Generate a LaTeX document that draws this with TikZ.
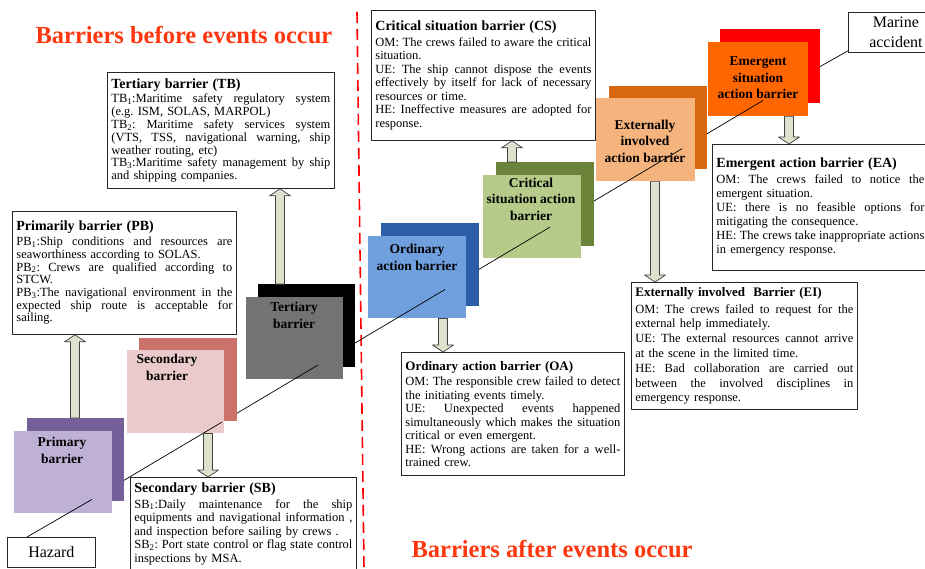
\documentclass[tikz,border=0pt]{standalone}
\usepackage{fontspec}
\setmainfont{Liberation Serif}
\usetikzlibrary{calc}

\definecolor{pbBack}{RGB}{118,96,154}
\definecolor{pbFront}{RGB}{191,177,213}
\definecolor{sbBack}{RGB}{203,115,107}
\definecolor{sbFront}{RGB}{234,202,202}
\definecolor{tbBack}{RGB}{0,0,0}
\definecolor{tbFront}{RGB}{115,115,115}
\definecolor{oaBack}{RGB}{44,94,168}
\definecolor{oaFront}{RGB}{111,159,221}
\definecolor{csBack}{RGB}{107,132,58}
\definecolor{csFront}{RGB}{182,203,137}
\definecolor{eiBack}{RGB}{215,104,15}
\definecolor{eiFront}{RGB}{245,180,126}
\definecolor{eaBack}{RGB}{255,0,0}
\definecolor{eaFront}{RGB}{255,102,0}
\definecolor{arrowfill}{RGB}{221,226,204}
\definecolor{titlered}{RGB}{255,55,15}

\frenchspacing
% one justified line of a description box
\newcommand{\J}[1]{\leavevmode\hbox to \hsize{\spaceskip=0.25em plus 1em minus 0.1em\relax #1}}
\newcommand{\boxhead}[2][14]{{\fontsize{#1}{#1}\selectfont\bfseries #2}\\[2pt]}
% block arrow: x, start anchor, tip anchor
\newcommand{\blockarrow}[3]{%
  \coordinate (ba) at (#1,0 |- #2);
  \coordinate (bt) at (#1,0 |- #3);
  \coordinate (bh) at ($(bt)!7pt!(ba)$);
  \draw[blockarr] ([xshift=-4.5pt]ba) -- ([xshift=-4.5pt]bh) -- ([xshift=-10.5pt]bh)
    -- (bt) -- ([xshift=10.5pt]bh) -- ([xshift=4.5pt]bh) -- ([xshift=4.5pt]ba) -- cycle;}

\begin{document}
\begin{tikzpicture}[x=1pt,y=-1pt,line join=round,
  barback/.style={anchor=north west,inner sep=0pt,minimum width=97pt,minimum height=83pt},
  barlabel/.style={align=center,font=\fontsize{13.5}{16.5}\selectfont\bfseries},
  desc/.style={draw=black!85,line width=0.8pt,fill=white,anchor=north west,inner xsep=4pt,
    inner ysep=2pt,align=left,font=\fontsize{12.5}{13}\selectfont},
  endbox/.style={draw=black!85,line width=0.8pt,fill=white,anchor=north west,align=center,
    font=\fontsize{16}{20}\selectfont},
  route/.style={line width=0.7pt},
  blockarr/.style={draw=black!75,fill=arrowfill,line width=0.7pt},
  title/.style={anchor=base west,text=titlered,font=\fontsize{24.5}{26}\selectfont\bfseries}]
\useasboundingbox (0,0) rectangle (925,569);

% divider
\draw[red,line width=1.6pt,dash pattern=on 11pt off 6pt] (357,12) -- (364,569);

% barriers, back and front
\node[barback,fill=pbBack] (pbB) at (27,418) {};
\node[barback,fill=pbFront,minimum width=98pt,minimum height=82pt] (pbF) at (14,431) {};
\node[barback,fill=sbBack,minimum width=98pt] (sbB) at (139,338) {};
\node[barback,fill=sbFront] (sbF) at (127,350) {};
\node[barback,fill=tbBack] (tbB) at (258,284) {};
\node[barback,fill=tbFront,minimum height=82pt] (tbF) at (246,297) {};
\node[barback,fill=oaBack,minimum width=98pt] (oaB) at (381,223) {};
\node[barback,fill=oaFront,minimum width=98pt,minimum height=82pt] (oaF) at (368,236) {};
\node[barback,fill=csBack,minimum width=98pt,minimum height=84pt] (csB) at (496,162) {};
\node[barback,fill=csFront,minimum width=98pt] (csF) at (483,175) {};
\node[barback,fill=eiBack,minimum width=98pt] (eiB) at (609,86) {};
\node[barback,fill=eiFront,minimum width=99pt] (eiF) at (596,98) {};
\node[barback,fill=eaBack,minimum width=100pt,minimum height=74pt] (eaB) at (720,29) {};
\node[barback,fill=eaFront,minimum width=100pt,minimum height=74pt] (eaF) at (708,42) {};

\node[barlabel] (pbT) at (62,450.5) {Primary\\barrier};
\node[barlabel] (sbT) at (167,367.5) {Secondary\\barrier};
\node[barlabel] (tbT) at (294,315.5) {Tertiary\\barrier};
\node[barlabel] (oaT) at (417,257.5) {Ordinary\\action barrier};
\node[barlabel] (csT) at (531,199) {Critical\\situation action\\barrier};
\node[barlabel] (eiT) at (645,141) {Externally\\involved\\action barrier};
\node[barlabel] (eaT) at (758,78) {Emergent\\situation\\action barrier};

% start and end
\node[endbox,minimum width=88pt,minimum height=30pt] (hz) at (7,537) {Hazard};
\node[endbox,minimum width=95pt,minimum height=40pt,inner sep=0pt] (ma) at (848,12) {Marine\\accident};

% the route, in pieces
\coordinate (r0) at ([xshift=20pt]hz.north west);
\coordinate (r1) at (92,499.4);
\coordinate (p1) at (124,480.3);
\coordinate (r2) at (222,422.1);
\coordinate (p2) at (237,413.2);
\coordinate (r3) at (318,365);
\coordinate (p3) at (355,343);
\coordinate (r4) at (445,289.5);
\coordinate (p4) at (479,269.3);
\coordinate (r5) at (550,227.1);
\coordinate (p5) at (594,201);
\coordinate (r6) at (682,148.7);
\coordinate (p6) at (707,133.8);
\coordinate (r7) at (763,100.5);
\coordinate (p7) at (820,66.6);
\coordinate (r8) at ([yshift=2pt]ma.south west);
\foreach \s/\e in {r0/r1,p1/r2,p2/r3,p3/r4,p4/r5,p5/r6,p6/r7,p7/r8}
  \draw[route] (\s) -- (\e);

% descriptions
\node[desc,text width=219pt,minimum height=116pt,font=\fontsize{12.5}{12.8}\selectfont] (tb) at (107,72) {\boxhead{Tertiary barrier (TB)}
\J{TB\textsubscript{1}:Maritime safety regulatory system}\\
(e.g. ISM, SOLAS, MARPOL)\\
\J{TB\textsubscript{2}: Maritime safety services system}\\
\J{(VTS, TSS, navigational warning, ship}\\
weather routing, etc)\\
\J{TB\textsubscript{3}:Maritime safety management by ship}\\
and shipping companies.};

\node[desc,text width=216pt,minimum height=123pt,font=\fontsize{12.5}{12.7}\selectfont] (pb) at (12,211) {\boxhead{Primarily barrier (PB)}
\J{PB\textsubscript{1}:Ship conditions and resources are}\\
seaworthiness according to SOLAS.\\
\J{PB\textsubscript{2}: Crews are qualified according to}\\
STCW.\\
\J{PB\textsubscript{3}:The navigational environment in the}\\
\J{expected ship route is acceptable for}\\
sailing.};

\node[desc,text width=218pt,minimum height=93pt,font=\fontsize{12.5}{13.5}\selectfont] (sb) at (130,477) {\boxhead{Secondary barrier (SB)}
\J{SB\textsubscript{1}:Daily maintenance for the ship}\\
\J{equipments and navigational information ,}\\
and inspection before sailing by crews .\\
\J{SB\textsubscript{2}: Port state control or flag state control}\\
inspections by MSA.};

\node[desc,text width=216pt,minimum height=130pt,font=\fontsize{12.5}{13.5}\selectfont] (cs) at (371,10) {\boxhead{Critical situation barrier (CS)}
\J{OM: The crews failed to aware the critical}\\
situation.\\
\J{UE: The ship cannot dispose the events}\\
\J{effectively by itself for lack of necessary}\\
resources or time.\\
\J{HE: Ineffective measures are adopted for}\\
response.};

\node[desc,text width=215pt,minimum height=123pt,font=\fontsize{12.5}{13.5}\selectfont] (oa) at (401,352) {\boxhead[13]{Ordinary action barrier (OA)}
\J{OM: The responsible crew failed to detect}\\
the initiating events timely.\\
\J{UE: Unexpected events happened}\\
\J{simultaneously which makes the situation}\\
critical or even emergent.\\
\J{HE: Wrong actions are taken for a well-}\\
trained crew.};

\node[desc,text width=218pt,minimum height=127pt,font=\fontsize{12.5}{14.8}\selectfont] (ei) at (631,282) {\boxhead[13]{Externally involved~ Barrier (EI)}
\J{OM: The crews failed to request for the}\\
external help immediately.\\
\J{UE: The external resources cannot arrive}\\
at the scene in the limited time.\\
\J{HE: Bad collaboration are carried out}\\
\J{between the involved disciplines in}\\
emergency response.};

\node[desc,text width=208pt,minimum height=126pt,font=\fontsize{12.5}{14}\selectfont] (ea) at (712,144) {\boxhead{Emergent action barrier (EA)}
\J{OM: The crews failed to notice the}\\
emergent situation.\\
\J{UE: there is no feasible options for}\\
mitigating the consequence.\\
\J{HE: The crews take inappropriate actions}\\
in emergency response.};

% block arrows
\blockarrow{75}{pbB.north}{pb.south}
\blockarrow{208}{sbF.south}{sb.north}
\blockarrow{280}{tbB.north}{tb.south}
\blockarrow{512}{csB.north}{cs.south}
\blockarrow{443}{oaF.south}{oa.north}
\blockarrow{655}{eiF.south}{ei.north}
\blockarrow{789}{eaF.south}{ea.north}

% titles
\node[title] (tBefore) at (32,44) {Barriers before events occur};
\node[title] (tAfter) at (408,557) {Barriers after events occur};
\end{tikzpicture}
\end{document}
